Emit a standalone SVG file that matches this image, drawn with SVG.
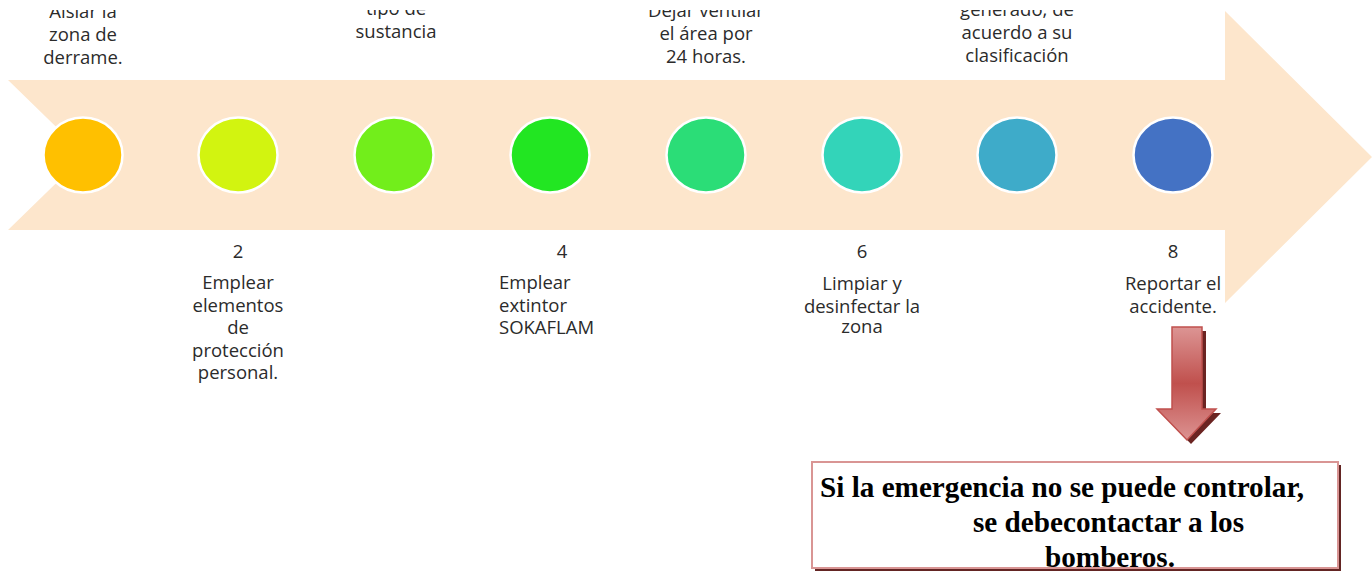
<svg xmlns="http://www.w3.org/2000/svg" width="1372" height="573" viewBox="0 0 1372 573">
<style>
.t{font-family:"Open Sans",Lato,sans-serif;font-size:18.5px;fill:#2b2b2b;text-anchor:middle}
.l{text-anchor:start}
.c{stroke:#ffffff;stroke-width:2.5}
.b{font-family:"Liberation Serif","Times New Roman",serif;font-size:29.2px;font-weight:bold;fill:#000}
</style>
<defs>
<clipPath id="topclip"><rect x="0" y="10" width="1372" height="563"/></clipPath>
<linearGradient id="rg" x1="0" y1="0" x2="0" y2="1">
<stop offset="0" stop-color="#DC9594"/>
<stop offset="0.5" stop-color="#C0504D"/>
<stop offset="1" stop-color="#DC9392"/>
</linearGradient>
</defs>
<rect width="1372" height="573" fill="#ffffff"/>
<g id="timeline-arrow">
<path d="M8,80 H1225 V11 L1372,157 L1225,303 V230 H8 L85,155 Z" fill="#FDE6CC"/>
</g>
<g clip-path="url(#topclip)">
<g id="node1">
<ellipse cx="83" cy="155" rx="39.5" ry="37.5" fill="#FFC000" class="c"/>
<text class="t" x="83" y="17.5">Aislar  la</text>
<text class="t" x="83" y="40.5">zona de</text>
<text class="t" x="83" y="63.5">derrame.</text>
</g>
<g id="node2">
<ellipse cx="238" cy="155" rx="39.5" ry="37.5" fill="#D2F410" class="c"/>
<text class="t" x="238" y="258">2</text>
<text class="t" x="238" y="289">Emplear</text>
<text class="t" x="238" y="311.5">elementos</text>
<text class="t" x="238" y="334">de</text>
<text class="t" x="238" y="356.5">protección</text>
<text class="t" x="238" y="379">personal.</text>
</g>
<g id="node3">
<ellipse cx="394" cy="155" rx="39.5" ry="37.5" fill="#72EE1B" class="c"/>
<text class="t" x="396" y="14.5">tipo de</text>
<text class="t" x="396" y="37.5">sustancia</text>
</g>
<g id="node4">
<ellipse cx="550" cy="155" rx="39.5" ry="37.5" fill="#22E622" class="c"/>
<text class="t" x="562" y="258">4</text>
<text class="t l" x="499" y="289">Emplear</text>
<text class="t l" x="499" y="311.5">extintor</text>
<text class="t l" x="499" y="334">SOKAFLAM</text>
</g>
<g id="node5">
<ellipse cx="706" cy="155" rx="39.5" ry="37.5" fill="#2BDD77" class="c"/>
<text class="t" x="706" y="17">Dejar ventilar</text>
<text class="t" x="706" y="40">el área por</text>
<text class="t" x="706" y="63">24 horas.</text>
</g>
<g id="node6">
<ellipse cx="862" cy="155" rx="39.5" ry="37.5" fill="#33D4B9" class="c"/>
<text class="t" x="862" y="258">6</text>
<text class="t" x="862" y="290">Limpiar y</text>
<text class="t" x="862" y="312.5">desinfectar la</text>
<text class="t" x="862" y="333">zona</text>
</g>
<g id="node7">
<ellipse cx="1017" cy="155" rx="39.5" ry="37.5" fill="#3EABC9" class="c"/>
<text class="t" x="1017" y="15.5">generado, de</text>
<text class="t" x="1017" y="38.5">acuerdo a su</text>
<text class="t" x="1017" y="61.5">clasificación</text>
</g>
<g id="node8">
<ellipse cx="1173" cy="155" rx="39.5" ry="37.5" fill="#4472C4" class="c"/>
<text class="t" x="1173" y="258">8</text>
<text class="t" x="1173" y="290">Reportar el</text>
<text class="t" x="1173" y="312.5">accidente.</text>
</g>
</g>
<g id="connectors">
<path d="M1176,331 H1206 V413 H1221 L1191,444 L1161,413 H1176 Z" fill="#6B2422"/>
<path d="M1172,327 H1202 V409 H1216 L1187,440 L1157,409 H1172 Z" fill="url(#rg)" stroke="#C0504D" stroke-width="1.5" stroke-linejoin="miter"/>
</g>
<g id="note">
<rect x="815" y="465" width="526" height="106" fill="#632523"/>
<rect x="812" y="462" width="526" height="106" fill="#ffffff" stroke="#D99594" stroke-width="2"/>
<text class="b" x="820" y="497">Si la emergencia no se puede controlar,</text>
<text class="b" x="973" y="532">se debecontactar a los</text>
<text class="b" x="1045" y="567">bomberos.</text>
</g>
</svg>
